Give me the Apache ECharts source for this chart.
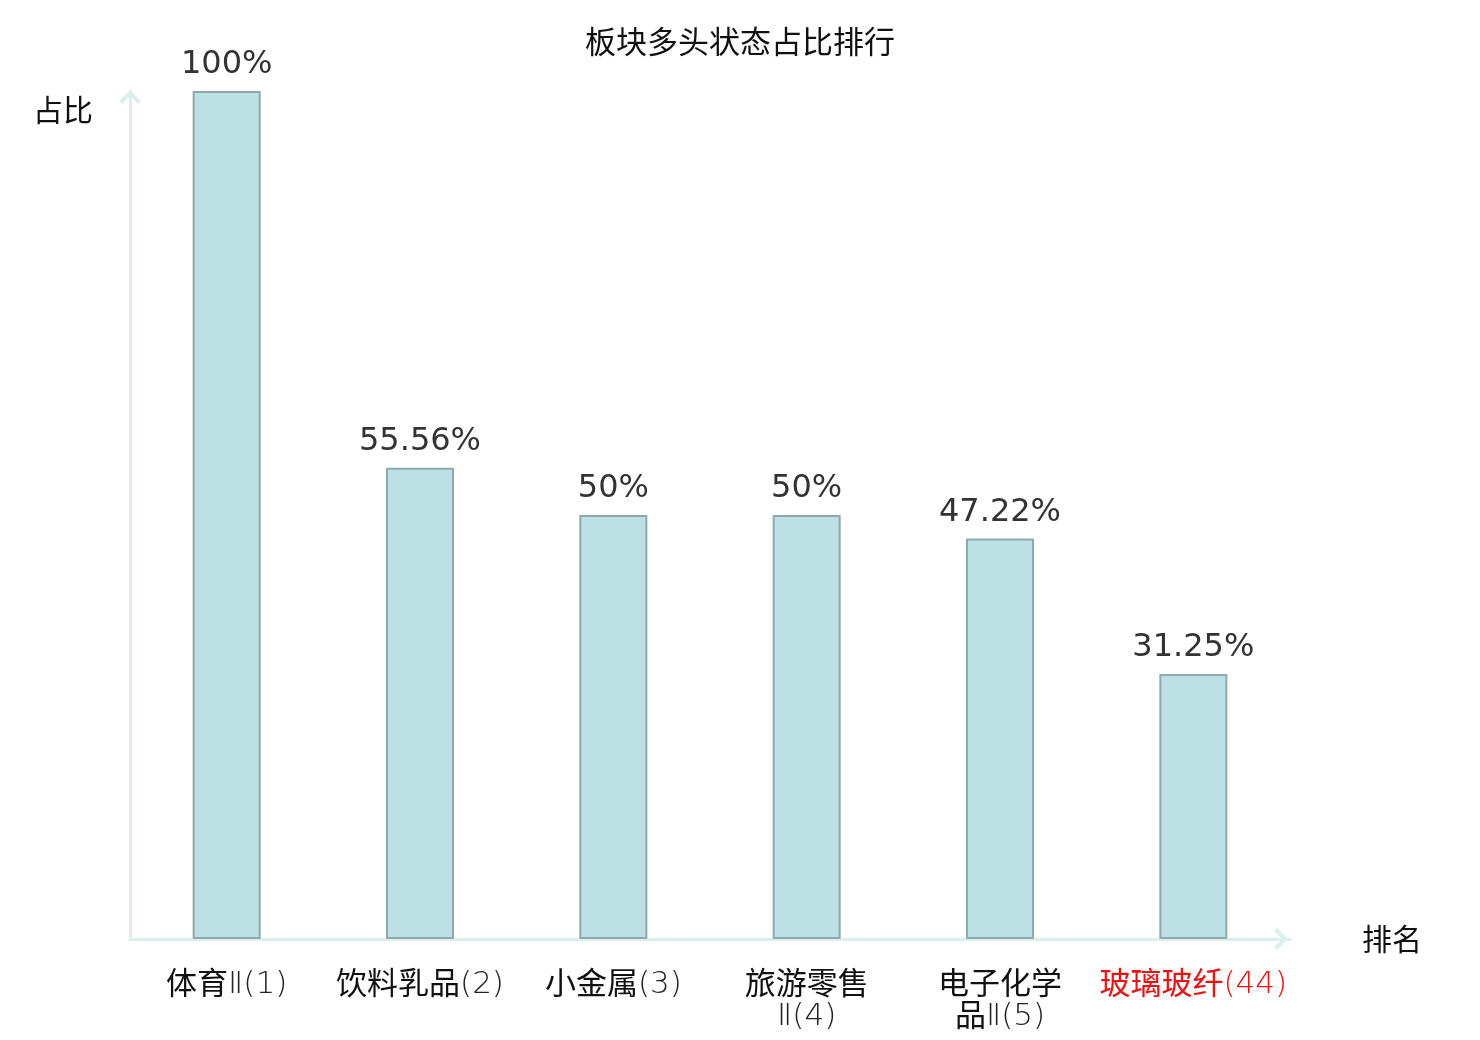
<!DOCTYPE html>
<html>
<head>
<meta charset="utf-8">
<script src="https://cdn.jsdelivr.net/npm/echarts@6/dist/echarts.min.js"></script>
<style>
	html, body { margin: 0; padding: 0; background: #fff; }
	#chart { width: 1480px; height: 1040px; }
</style>
</head>
<body>
<div id="chart"></div>
<script>
// 板块名称（含排名）
var categories = ["体育Ⅱ(1)", "饮料乳品(2)", "小金属(3)", "旅游零售\nⅡ(4)", "电子化学\n品Ⅱ(5)", "玻璃玻纤(44)"]
// 多头状态占比 %
var ratios = [100, 55.56, 50, 50, 47.22, 31.25]
// 需要标红的板块
var highlightIndex = [5]

var cjk = "Noto Sans CJK SC"
var axisColor = "#dbf0ed"
// 空心箭头
var arrowPath = "path://M11,0 L22,11 L19,14 L11,6 L3,14 L0,11 Z"

// 汉字和数字括号分开设置字体
function styleLine(line, red) {
	return line.replace(/[\u4e00-\u9fff]+|[^\u4e00-\u9fff]+/g, function (s) {
		var isCn = /[\u4e00-\u9fff]/.test(s)
		return "{" + (red ? "r" : "") + (isCn ? "cn" : "lat") + "|" + s + "}"
	})
}

var chart = echarts.init(document.getElementById("chart"))

var option = {
	backgroundColor: "#fff",
	animation: false,
	title: {
		text: "板块多头状态占比排行",
		left: "center",
		top: 21,
		textStyle: {
			fontFamily: cjk,
			fontSize: 31,
			fontWeight: "normal",
			color: "#111"
		}
	},
	grid: {
		left: 130,
		right: 190,
		top: 91,
		bottom: 101
	},
	xAxis: {
		type: "category",
		data: categories,
		name: "排名",
		nameLocation: "end",
		nameGap: 72,
		nameTextStyle: {
			fontFamily: cjk,
			fontSize: 30,
			color: "#111",
			verticalAlign: "middle"
		},
		axisLine: {
			lineStyle: { color: axisColor, width: 3 },
			symbol: ["none", arrowPath],
			symbolSize: [22, 18],
			symbolOffset: [0, -9]
		},
		axisTick: { show: false },
		axisLabel: {
			interval: 0,
			margin: 27,
			fontFamily: cjk,
			fontSize: 31,
			lineHeight: 32,
			color: "#111",
			formatter: function (value, index) {
				var red = highlightIndex.indexOf(index) >= 0
				return value.split("\n").map(function (line) {
					return styleLine(line, red)
				}).join("\n")
			},
			rich: {
				cn: { fontFamily: cjk, fontSize: 31, lineHeight: 32, color: "#111" },
				lat: { fontFamily: "DejaVu Sans", fontWeight: 200, fontSize: 31, lineHeight: 32, padding: [6, 0, 0, 0], color: "#222" },
				rcn: { fontFamily: cjk, fontSize: 31, lineHeight: 32, color: "#ee1111" },
				rlat: { fontFamily: "DejaVu Sans", fontWeight: 200, fontSize: 31, lineHeight: 32, padding: [6, 0, 0, 0], color: "#ee1111" }
			}
		}
	},
	yAxis: {
		type: "value",
		min: 0,
		max: 100,
		name: "占比",
		nameLocation: "end",
		nameGap: -19,
		nameTextStyle: {
			fontFamily: cjk,
			fontSize: 30,
			color: "#111",
			align: "right",
			verticalAlign: "middle",
			padding: [0, 37, 0, 0]
		},
		axisLine: {
			show: true,
			lineStyle: { color: axisColor, width: 3 },
			symbol: ["none", arrowPath],
			symbolSize: [22, 18],
			symbolOffset: [0, -6]
		},
		axisTick: { show: false },
		axisLabel: { show: false },
		splitLine: { show: false }
	},
	series: [{
		type: "bar",
		data: ratios,
		barWidth: 68,
		itemStyle: {
			color: "#bce0e3",
			borderColor: "#8eaaab",
			borderWidth: 2
		},
		label: {
			show: true,
			position: "top",
			distance: 10,
			fontFamily: "DejaVu Sans",
			fontSize: 32,
			color: "#333",
			formatter: "{c}%"
		}
	}]
}

chart.setOption(option)
</script>
</body>
</html>
